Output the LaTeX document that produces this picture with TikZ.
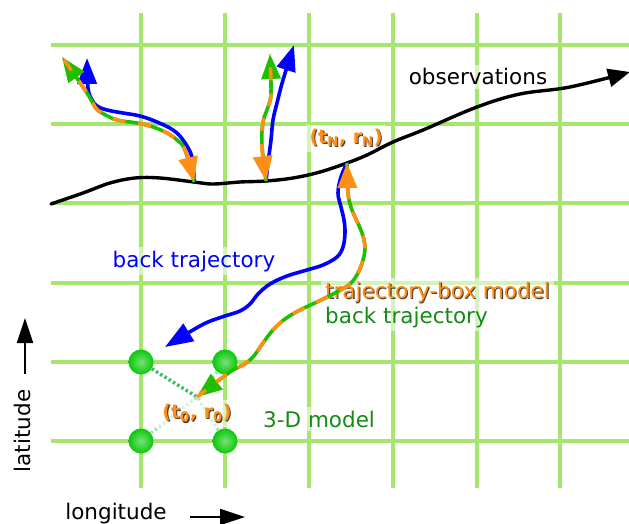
\documentclass[tikz,border=0pt]{standalone}
\usepackage{fontspec}
\setmainfont{DejaVu Sans}
\definecolor{gridgreen}{RGB}{166,230,110}
\definecolor{trajblue}{RGB}{0,0,255}
\definecolor{trajorange}{RGB}{255,142,20}
\definecolor{trajgreen}{RGB}{30,190,0}
\definecolor{textgreen}{RGB}{20,140,20}
\definecolor{dotgreen}{RGB}{10,200,10}
\definecolor{linkgreen}{RGB}{60,190,90}
\definecolor{shadowgray}{RGB}{70,60,50}
\usetikzlibrary{arrows.meta}
\newcommand{\shadowtext}[1]{\makebox[0pt][l]{\hspace*{1.1pt}\raisebox{-1.1pt}{\textcolor{shadowgray}{#1}}}\textcolor{trajorange}{#1}}

\begin{document}
\begin{tikzpicture}[x=1pt, y=-1pt, font=\fontsize{21.5}{25}\selectfont,
  gridline/.style={draw=gridgreen, line width=4pt},
  gridpoint/.style={circle, minimum size=25pt, inner sep=0pt, shade, shading=radial, inner color=dotgreen!55!white, outer color=dotgreen},
  link/.style={line width=3.5pt, dash pattern=on 2.5pt off 2.5pt},
  lbl/.style={fill=white, fill opacity=0.55, text opacity=1, inner sep=4pt},
  obsline/.style={black, line width=3.4pt, line cap=round},
  blueline/.style={trajblue, line width=3.6pt, line cap=round},
  greenline/.style={trajgreen, line width=3.6pt},
  orangeline/.style={trajorange, line width=3.6pt, dash pattern=on 13pt off 13pt},
  axisarrow/.style={black, line width=2pt, -{Triangle[length=25pt,width=16pt]}}]
  \useasboundingbox (0,0) rectangle (629,524);
  % grid
  \foreach \gx in {141,225,309,393,477,560}
    \draw[gridline] (\gx,13) -- (\gx,488);
  \foreach \gy in {45,124,203,283,362,441}
    \draw[gridline] (51,\gy) -- (629,\gy);
  % 3-D model grid points and interpolation to (t0, r0)
  \coordinate (t0) at (197,397);
  \node[gridpoint] (p11) at (141,362) {};
  \node[gridpoint] (p21) at (225,362) {};
  \node[gridpoint] (p12) at (141,441) {};
  \node[gridpoint] (p22) at (225,441) {};
  \draw[link, draw=linkgreen] (p11) -- (t0);
  \draw[link, draw=linkgreen!45!white] (p21) -- (t0);
  \draw[link, draw=linkgreen!45!white] (p12) -- (t0);
  \draw[link, draw=linkgreen!45!white] (p22) -- (t0);
  % labels
  \node[lbl, anchor=base] (obslabel) at (478,85) {observations};
  \node[lbl, anchor=base, text=trajblue] (backlabel) at (194,267) {back trajectory};
  \node[lbl, anchor=base west, align=left] (boxlabel) at (321,323) {\shadowtext{trajectory-box model}\\\textcolor{textgreen}{back trajectory}};
  \node[lbl, anchor=base west, text=textgreen] (modellabel) at (259,427) {3-D model};
  \node[lbl, anchor=base, font=\fontsize{19}{22}\selectfont\bfseries] (tnlabel) at (346,143) {\shadowtext{(t\textsubscript{N}, r\textsubscript{N})}};
  \node[lbl, anchor=base, font=\fontsize{19}{22}\selectfont\bfseries] (t0label) at (197,418) {\shadowtext{(t\textsubscript{0}, r\textsubscript{0})}};
  \node[anchor=base, rotate=90] (latlabel) at (30,431) {latitude};
  \node[anchor=base] (lonlabel) at (116,519) {longitude};
  \coordinate (latfrom) at (25,374);
  \coordinate (latto) at (25,318);
  \coordinate (lonfrom) at (190,517);
  \coordinate (lonto) at (245,517);
  \draw[axisarrow] (latfrom) -- (latto);
  \draw[axisarrow] (lonfrom) -- (lonto);
  % observation path
  \coordinate (obs1) at (194,182);
  \coordinate (obs2) at (266,181);
  \coordinate (obsN) at (347,163);
  \coordinate (obsend) at (630,72);
  \draw[obsline, -{Triangle[length=22pt,width=18pt]}] plot[smooth, tension=0.6] coordinates {(51,204) (83,193) (110,183) (135,178) (160,178) (obs1) (213,184) (240,182) (obs2) (293,178) (320,172) (obsN) (367,155) (393,142) (423,130) (477,107) (520,94) (570,87) (obsend)};
  % trajectories from the upper observations
  \coordinate (far1b) at (87,58);
  \coordinate (far1g) at (62,57);
  \coordinate (far2b) at (294,45);
  \coordinate (far2g) at (270,54);
  \draw[blueline, -{Triangle[length=26pt,width=19pt]}] plot[smooth, tension=0.6] coordinates {(obs1) (192,157) (183,140) (173,130) (157,122) (140,116) (123,113) (107,110) (97,106) (92,100) (88,88) (far1b)};
  \draw[greenline, -{Triangle[length=25pt,width=19pt]}] plot[smooth, tension=0.6] coordinates {(obs1) (185,150) (177,140) (167,133) (153,127) (137,123) (117,120) (102,113) (95,107) (87,93) (far1g)};
  \draw[orangeline, {Triangle[length=25pt,width=19pt]}-] plot[smooth, tension=0.6] coordinates {(obs1) (185,150) (177,140) (167,133) (153,127) (137,123) (117,120) (102,113) (95,107) (87,93) (far1g)};
  \draw[blueline, -{Triangle[length=26pt,width=19pt]}] plot[smooth, tension=0.6] coordinates {(obs2) (268,163) (271,140) (273,120) (277,103) (283,80) (far2b)};
  \draw[greenline, -{Triangle[length=25pt,width=19pt]}] plot[smooth, tension=0.6] coordinates {(obs2) (262,145) (263,122) (268,107) (271,93) (far2g)};
  \draw[orangeline, {Triangle[length=25pt,width=19pt]}-] plot[smooth, tension=0.6] coordinates {(obs2) (262,145) (263,122) (268,107) (271,93) (far2g)};
  % back trajectories from (tN, rN)
  \coordinate (lowend) at (165,347);
  \draw[blueline, -{Triangle[length=28pt,width=20pt]}] plot[smooth, tension=0.6] coordinates {(obsN) (341,177) (338,193) (341,207) (344,220) (345,233) (343,247) (337,257) (323,265) (307,270) (287,276) (270,284) (258,294) (250,304) (240,311) (225,316) (208,322) (193,330) (lowend)};
  \draw[greenline, -{Triangle[length=25pt,width=19pt]}] plot[smooth, tension=0.6] coordinates {(obsN) (348,193) (351,207) (355,217) (362,233) (365,247) (363,260) (358,273) (350,284) (337,292) (317,302) (300,310) (285,319) (273,330) (263,343) (253,357) (243,365) (230,372) (t0)};
  \draw[orangeline, {Triangle[length=25pt,width=19pt]}-] plot[smooth, tension=0.6] coordinates {(obsN) (348,193) (351,207) (355,217) (362,233) (365,247) (363,260) (358,273) (350,284) (337,292) (317,302) (300,310) (285,319) (273,330) (263,343) (253,357) (243,365) (230,372) (t0)};
\end{tikzpicture}
\end{document}
